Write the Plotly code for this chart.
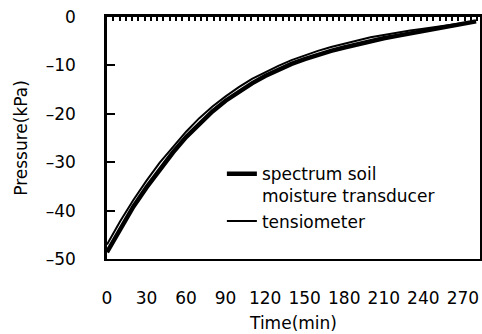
import plotly.graph_objects as go

time_min = [0, 10, 20, 30, 40, 50, 60, 70, 80, 90, 100, 110, 120, 130, 140,
            150, 160, 170, 180, 190, 200, 210, 220, 230, 240, 250, 260, 270, 280]
spectrum = [-48.6, -43.7, -39.2, -35.2, -31.4, -28.0, -24.8, -22.0, -19.5, -17.3,
            -15.4, -13.7, -12.2, -10.9, -9.7, -8.7, -7.8, -7.0, -6.3, -5.6,
            -5.0, -4.4, -3.9, -3.4, -3.0, -2.5, -2.0, -1.5, -0.9]
tensiometer = [-47.0, -42.2, -37.8, -33.8, -30.1, -26.8, -23.7, -20.9, -18.5, -16.4,
               -14.5, -12.8, -11.4, -10.1, -8.9, -7.9, -7.0, -6.2, -5.5, -4.8,
               -4.2, -3.7, -3.2, -2.8, -2.4, -2.0, -1.7, -1.3, -0.9]
x_ticks = [0, 30, 60, 90, 120, 150, 180, 210, 240, 270]
y_ticks = [0, -10, -20, -30, -40, -50]
y_ticktext = ["0", "–10", "–20", "–30", "–40", "–50"]

FONT = "DejaVu Sans, sans-serif"

fig = go.Figure()
fig.add_trace(go.Scatter(x=time_min, y=spectrum, mode="lines",
                         name="spectrum soil<br>moisture transducer",
                         line=dict(color="black", width=4.5)))
fig.add_trace(go.Scatter(x=time_min, y=tensiometer, mode="lines",
                         name="tensiometer",
                         line=dict(color="black", width=2)))
# invisible trace to activate the top axis with the minor ticks
fig.add_trace(go.Scatter(x=[0, 280], y=[0, 0], xaxis="x2", mode="lines",
                         line=dict(width=0), showlegend=False, hoverinfo="skip"))

xr = [0, 283]
fig.update_layout(
    width=482, height=334,
    margin=dict(l=107, r=2, t=17, b=75, autoexpand=False),
    paper_bgcolor="white", plot_bgcolor="white",
    font=dict(family=FONT, size=17, color="black"),
    showlegend=True,
    legend=dict(x=0.308, y=0.425, xanchor="left", yanchor="top",
                bgcolor="rgba(0,0,0,0)", borderwidth=0,
                font=dict(family=FONT, size=17, color="black"),
                valign="top", tracegroupgap=0, itemwidth=30),
    xaxis=dict(range=xr, tickvals=x_ticks, ticktext=[str(v) for v in x_ticks],
               ticks="", showgrid=False, zeroline=False, automargin=False,
               showline=True, linecolor="black", linewidth=2,
               ticklabelstandoff=23, tickfont=dict(family=FONT, size=17),
               title=dict(text="Time(min)", standoff=10,
                          font=dict(family=FONT, size=17))),
    xaxis2=dict(range=xr, overlaying="x", side="top", anchor="y",
                dtick=4.76, tick0=0, ticks="inside", ticklen=4, tickwidth=1.5,
                tickcolor="black", showticklabels=False, showgrid=False,
                automargin=False,
                zeroline=False, showline=True, linecolor="black", linewidth=3),
    yaxis=dict(range=[-50, 0], tickvals=y_ticks, ticktext=y_ticktext,
               ticks="inside", ticklen=8, tickwidth=1.5, tickcolor="black",
               showgrid=False, zeroline=False, automargin=False,
               showline=True, linecolor="black", linewidth=2.5, mirror=True,
               ticklabelstandoff=25, tickfont=dict(family=FONT, size=17),
               title=dict(text="Pressure(kPa)", standoff=14,
                          font=dict(family=FONT, size=17))),
)

fig.write_html("out.html",
               config={"displayModeBar": False},
               post_script="document.body.style.margin='0';"
                           "document.body.style.overflow='hidden';")
